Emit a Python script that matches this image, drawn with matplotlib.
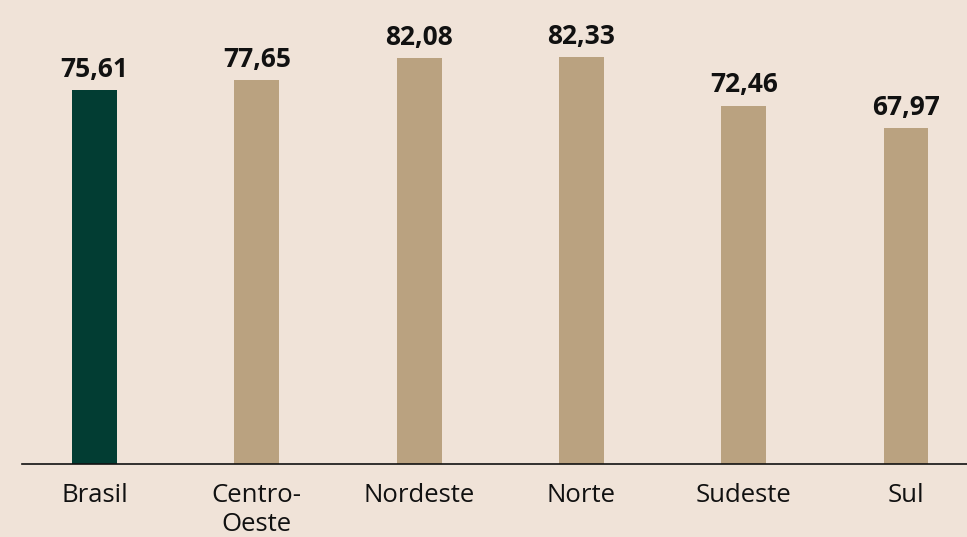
import matplotlib
matplotlib.use("Agg")
from matplotlib import pyplot as plt

regions = ["Brasil", "Centro-\nOeste", "Nordeste", "Norte", "Sudeste", "Sul"]
values = [75.61, 77.65, 82.08, 82.33, 72.46, 67.97]
colors = ["#023D33", "#BAA280", "#BAA280", "#BAA280", "#BAA280", "#BAA280"]

bg = "#F0E3D8"
plt.rcParams["font.family"] = ["Open Sans", "DejaVu Sans"]

fig = plt.figure(figsize=(9.67, 5.37), dpi=100, facecolor=bg)
ax = fig.add_axes([22 / 967, (537 - 464) / 537, 1 - 22 / 967, 464 / 537])
ax.set_facecolor(bg)

x = list(range(len(regions)))
ax.bar(x, values, width=0.277, color=colors, zorder=2)

for xi, v in zip(x, values):
    ax.annotate(f"{v:.2f}".replace(".", ","), (xi, v), xytext=(0, 9.5),
                textcoords="offset points", ha="center", va="baseline",
                fontsize=19, fontweight="bold", color="#111111")

ax.set_xlim(-0.447, 5.376)
ax.set_ylim(0, 93.8)
ax.set_xticks(x)
ax.set_xticklabels(regions, fontsize=18.5, color="#111111", linespacing=1.2)
ax.tick_params(axis="x", length=0, pad=14)
ax.set_yticks([])
for side in ["top", "right", "left"]:
    ax.spines[side].set_visible(False)
ax.spines["bottom"].set_color("#111111")
ax.spines["bottom"].set_linewidth(1.2)
ax.spines["bottom"].set_zorder(3)

plt.savefig("out.png", facecolor=bg)
